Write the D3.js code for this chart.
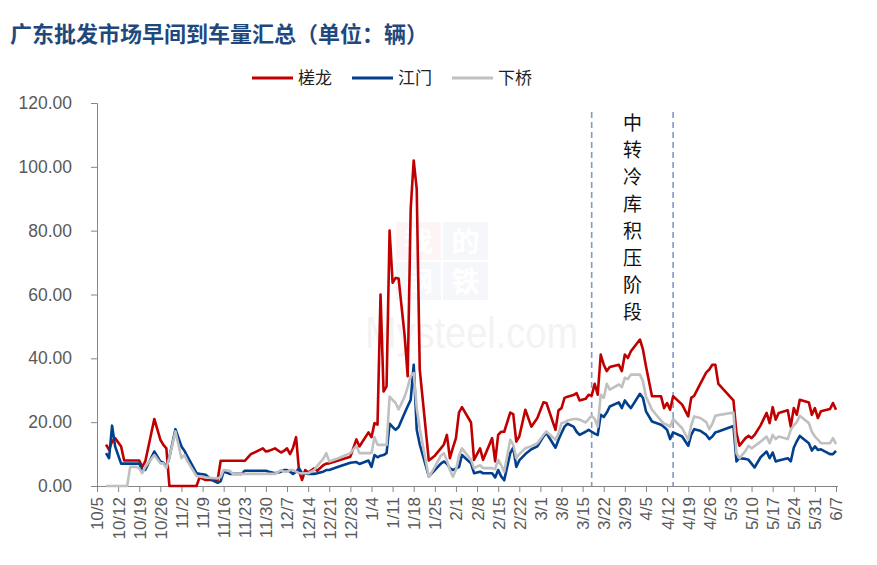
<!DOCTYPE html>
<html><head><meta charset="utf-8">
<script src="https://cdn.jsdelivr.net/npm/d3@7/dist/d3.min.js"></script>
<style>body{margin:0;background:#fff} svg{display:block}</style>
</head><body><svg id="c" width="877" height="565"></svg>
<script>
const title = "广东批发市场早间到车量汇总（单位：辆）";
const seriesNames = ["槎龙","江门","下桥"];
const noteText = "中转冷库积压阶段";
const markDates = ["03-18","04-14"];
const yTicks = [0,20,40,60,80,100,120];
const tickLabels = ["10/5","10/12","10/19","10/26","11/2","11/9","11/16","11/23","11/30","12/7","12/14","12/21","12/28","1/4","1/11","1/18","1/25","2/1","2/8","2/15","2/22","3/1","3/8","3/15","3/22","3/29","4/5","4/12","4/19","4/26","5/3","5/10","5/17","5/24","5/31","6/7"];

const dates = ["10-08","10-09","10-10","10-11","10-13","10-14","10-15","10-16","10-18","10-19","10-20","10-21","10-24","10-26","10-27","10-28","10-29","10-31","11-02","11-03","11-04","11-07","11-08","11-10","11-12","11-14","11-15","11-16","11-18","11-19","11-22","11-23","11-25","11-26","11-29","11-30","12-01","12-03","12-05","12-06","12-07","12-08","12-09","12-10","12-11","12-12","12-13","12-14","12-16","12-17","12-19","12-20","12-21","12-24","12-28","12-30","12-31","01-03","01-04","01-05","01-06","01-07","01-08","01-09","01-10","01-11","01-12","01-13","01-15","01-16","01-17","01-18","01-19","01-20","01-23","01-25","01-27","01-28","01-29","01-30","01-31","02-01","02-02","02-03","02-06","02-07","02-09","02-10","02-13","02-14","02-15","02-16","02-17","02-19","02-20","02-21","02-22","02-24","02-26","02-28","03-02","03-03","03-06","03-07","03-08","03-09","03-10","03-12","03-13","03-14","03-16","03-17","03-18","03-19","03-20","03-21","03-22","03-23","03-24","03-27","03-28","03-29","03-30","03-31","04-03","04-04","04-05","04-07","04-10","04-11","04-12","04-13","04-14","04-17","04-19","04-20","04-21","04-23","04-25","04-26","04-27","04-28","04-29","05-04","05-05","05-06","05-08","05-09","05-10","05-11","05-13","05-15","05-16","05-17","05-18","05-19","05-22","05-23","05-24","05-25","05-26","05-29","05-30","05-31","06-01","06-02","06-05","06-06","06-07"];

const chalong = [13,11.3,14,15,12.4,8,8,8,8,8,6,7.7,21,14.5,12.9,11.8,0,0,0,0,0,0,2.7,1.9,1.9,1.9,7.9,7.9,7.9,7.9,7.9,7.9,10,10.4,11.8,10.8,11,11.8,10.5,11,11.8,10,12,15.3,4.5,1.9,5,4.2,5.5,4.8,6.5,7,7.1,8,9.2,14.6,12.4,16.8,15.3,19.7,19.2,60,29.6,31.2,80,63.7,65.2,65,47,34.4,86.8,102,93,36.5,8,9.5,11.8,13,16,8.7,12,15,23,24.7,19.9,8.2,11.8,8.2,15,7.7,16,17,17,23,22.5,13.9,15.5,23.9,18.6,21.3,26.2,26,17.6,23.7,24.4,27.6,28,28.5,29.1,26.8,27.3,28.6,28.3,32,28.6,41.2,38,36,37.3,38,36,41.2,40.1,42.2,45.9,42.8,37.5,28.1,28.1,24.4,26,23.9,28.1,25.5,21.8,27.6,28.3,32,35.6,36.5,38,38,32,26.8,16.6,12.6,15,15.7,15,16,19,22.9,19.7,24.7,20.8,22.9,23.7,18.6,24.4,22.3,27,26.2,22.3,24.4,21.3,23.4,24.1,26,23.9];

const jiangmen = [10.3,8.7,18.9,12.4,7,7,7,7,7,7,5,5,10.8,7.7,7.3,6,9,17.8,12.4,11,9.2,4,3.8,3.5,1.9,1,1.5,4.5,3.8,3.8,3.8,4.8,4.8,4.8,4.8,4.8,4.5,4,4.5,5,5,4.5,3.8,4.5,5.5,4,4,3.8,3.8,4,4.5,5,5,6,7.3,7.5,6.9,8,6,9.7,9,9.5,9.7,10.3,19.5,18.5,17.6,18.5,22.9,25,27,38,17.6,13,3,5,7,7.7,7,5.6,5,5.5,5.9,9.7,7.1,4,4.5,4,4,2.7,5,3,1.8,10.3,12,6,8,10,11.5,12.4,15.5,16.6,12,14.5,16.6,18.6,19.5,18.6,17,16,17,17.6,17,16.4,16,22.3,21.6,23,24.9,26.2,24.4,26.8,25.5,24.4,28.9,27.6,23.4,20.2,19.2,18.5,17.6,14.7,16.8,15.5,12.6,16,17.8,17.3,16,14.7,15.5,16.8,17.1,18.8,7.7,8.7,8.5,8.2,7,5.8,9,10.8,8.7,10.5,7.7,8,8.7,7.7,12,14,15.7,13.4,11.1,12.4,11.3,11.5,10,10,11];

const xiaqiao = [0,0,0,0,0,0,0,6,6,5.5,4,6,9.7,7.1,7.1,5.6,9,17.1,8.7,9.7,7.7,3.1,3,2.7,2.5,2.4,2.8,5,4.8,3.8,3.8,3.8,3.8,3.8,3.8,3.8,3.8,3.8,5,4.5,4.5,5,5,4.5,4,4,4,4,5,6.3,8.5,10.3,7.7,8.7,10.3,12.6,10.3,10.3,10.3,15.3,12.9,12.9,12.9,12.9,28,27,26,24,28,31,34.5,35.4,24.4,18,2.8,6,9.5,10.3,8,5,2.9,5,9.5,11.8,8.2,5.6,6.5,5.6,5.6,5.3,8.2,6.5,4.5,14.5,13,8.7,10,11.8,12.5,13.4,16,17.1,14.5,16.5,19.7,20,20.5,21,21,20.8,19.9,21,22,21,18.6,28.6,27.6,32,30.2,31.8,31,33.9,33.5,34.9,34.9,32.8,28,23.9,20.5,19.5,19.2,18.6,21,18.1,14.5,19,21.8,21.3,20,17.8,19.5,22,22.2,23,10.3,8.7,11,12.6,11.8,12.5,13.9,15.5,13.4,16,14.7,15.5,14.7,17.6,19,20,22,19.7,17,15.5,14.5,13.4,13.4,15,13.1];

const colors = ["#C00000","#023F8C","#C0C0C0"];

function pd(s){ const [m,d] = s.split(/[-\/]/).map(Number); return new Date(m>=10?2020:2021, m-1, d); }

const svg = d3.select("#c");
const x0 = 97, x1 = 836, yTop = 103, yBot = 486;

const x = d3.scaleTime().domain([pd("10/5"), pd("6/7")]).range([x0, x1]);
const y = d3.scaleLinear().domain([0,120]).range([yBot, yTop]);

// watermark (faint)
const wm = svg.append("g").attr("opacity", 0.07);
[["我",396,222,"#e00000"],["的",443,222,"#1a3a8a"],["钢",396,262,"#1a3a8a"],["铁",443,262,"#1a3a8a"]].forEach(([t,bx,by,c])=>{
  wm.append("rect").attr("x",bx).attr("y",by).attr("width",45).attr("height",38).attr("fill",c).attr("opacity",0.5);
  wm.append("text").attr("x",bx+22.5).attr("y",by+30).attr("text-anchor","middle").attr("font-size",28).attr("font-weight","bold")
    .attr("font-family","'Noto Sans CJK SC'").attr("fill","#fff").text(t);
});
wm.append("text").attr("x",365).attr("y",348).attr("font-size",44).attr("textLength",213).attr("lengthAdjust","spacingAndGlyphs")
  .attr("font-family","'Liberation Sans',Arial,sans-serif").attr("fill","#666").text("Mysteel.com");

// title
svg.append("text").attr("x",10).attr("y",42).attr("font-size",22).attr("font-weight","bold")
  .attr("font-family","'Noto Sans CJK SC'").attr("fill","#1F497D").text(title);

// legend
const legX = [252,352,452];
seriesNames.forEach((n,i)=>{
  svg.append("line").attr("x1",legX[i]).attr("x2",legX[i]+41).attr("y1",78).attr("y2",78)
    .attr("stroke",colors[i]).attr("stroke-width",3);
  svg.append("text").attr("x",legX[i]+46).attr("y",84).attr("font-size",17)
    .attr("font-family","'Noto Sans CJK SC'").attr("fill","#222").text(n);
});

// axes
const axisColor = "#868686", labelColor = "#595959";
const gy = svg.append("g").attr("transform",`translate(${x0},0)`)
  .call(d3.axisLeft(y).tickValues(yTicks).tickSize(6).tickPadding(19).tickFormat(d3.format(".2f")));
gy.select(".domain").attr("stroke",axisColor);
gy.selectAll(".tick line").attr("stroke",axisColor);
gy.selectAll("text").attr("fill",labelColor).attr("font-size",17.5).attr("font-family","'Liberation Sans',Arial,sans-serif");

const tickDates = tickLabels.map(pd);
const gx = svg.append("g").attr("transform",`translate(0,${yBot})`)
  .call(d3.axisBottom(x).tickValues(tickDates).tickSize(6).tickSizeOuter(0).tickFormat((d,i)=>tickLabels[i]));
gx.select(".domain").attr("stroke",axisColor).attr("d",`M${x0},0.5H${x1+2}`);
gx.selectAll(".tick line").attr("stroke",axisColor);
gx.selectAll("text").attr("fill",labelColor).attr("font-size",17).attr("font-family","'Liberation Sans',Arial,sans-serif")
  .attr("x",0).attr("y",0).attr("dy","0.35em").attr("text-anchor","end")
  .attr("transform","translate(0,11) rotate(-90)");

// dashed markers
markDates.forEach(m=>{
  svg.append("line").attr("x1",x(pd(m))).attr("x2",x(pd(m))).attr("y1",112).attr("y2",yBot)
    .attr("stroke","#7F9ACB").attr("stroke-width",1.6).attr("stroke-dasharray","6,4");
});

// vertical note
const noteX = (x(pd(markDates[0])) + x(pd(markDates[1]))) / 2;
Array.from(noteText).forEach((ch,i)=>{
  svg.append("text").attr("x",noteX).attr("y",130 + i*27).attr("text-anchor","middle")
    .attr("font-size",19).attr("font-family","'Noto Sans CJK SC'").attr("fill","#111").text(ch);
});

// lines
const series = [chalong, jiangmen, xiaqiao];
const line = d3.line().x((d,i)=>x(pd(dates[i]))).y(d=>y(d)).curve(d3.curveLinear);
series.forEach((s,i)=>{
  svg.append("path").datum(s).attr("d", line).attr("fill","none")
    .attr("stroke",colors[i]).attr("stroke-width",2.6).attr("stroke-linejoin","round");
});
</script></body></html>
